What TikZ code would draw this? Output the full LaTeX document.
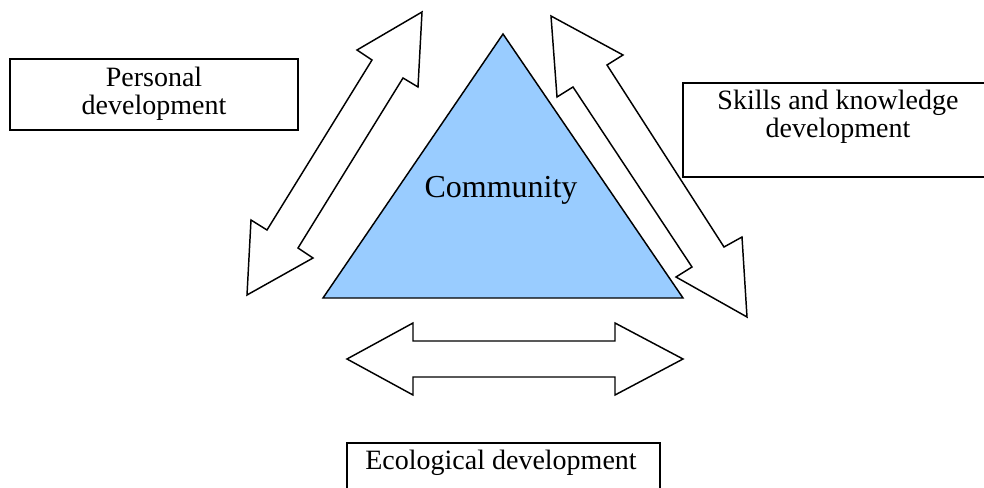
\documentclass[tikz,border=0pt]{standalone}
\usepackage{fontspec}
\setmainfont{Liberation Serif}
\begin{document}
\begin{tikzpicture}[x=0.75pt,y=-0.75pt,
  box/.style={draw=black,line width=1.1pt,fill=white},
  arrowshape/.style={draw=black,line width=1.1pt,fill=white,line join=miter},
  lbl/.style={font=\fontsize{21}{21.5}\selectfont,align=center,inner sep=0pt}]
\useasboundingbox (0,0) rectangle (984,488);
% triangle
\path[draw=black,line width=1.1pt,fill={rgb,255:red,153;green,204;blue,255}]
  (503,34) coordinate (apex) -- (683,298) coordinate (br) -- (323,298) coordinate (bl) -- cycle;
\node[font=\fontsize{24}{28}\selectfont,anchor=base,inner sep=0pt] (comm) at (501,198) {Community};
% left diagonal double arrow
\path[arrowshape] (422,12) -- (418,87) -- (403,78) -- (298,248) -- (313,258) -- (247,295)
  -- (251,220) -- (267,230) -- (372,60) -- (357,50) -- cycle;
% right diagonal double arrow
\path[arrowshape] (551,16) -- (623,55) -- (607,65) -- (724,247) -- (742,237) -- (747,317)
  -- (676,277) -- (692,267) -- (573,87) -- (557,97) -- cycle;
% horizontal double arrow
\path[arrowshape] (347,359) -- (413,323) -- (413,341) -- (615,341) -- (615,323) -- (683,359)
  -- (615,395) -- (615,377) -- (413,377) -- (413,395) -- cycle;
% boxes
\draw[box] (10,59) rectangle (298,130);
\node[lbl,anchor=base] (pers) at (154,115) {Personal\\development};
\begin{scope}
\clip (0,0) rectangle (984,488);
\draw[box] (990,83) -- (683,83) -- (683,177) -- (990,177);
\draw[box] (347,500) -- (347,443) -- (660,443) -- (660,500);
\end{scope}
\node[lbl,anchor=base] (skill) at (838,138) {Skills and knowledge\\development};
\node[lbl,anchor=base] (eco) at (501,469) {Ecological development};
\end{tikzpicture}
\end{document}
